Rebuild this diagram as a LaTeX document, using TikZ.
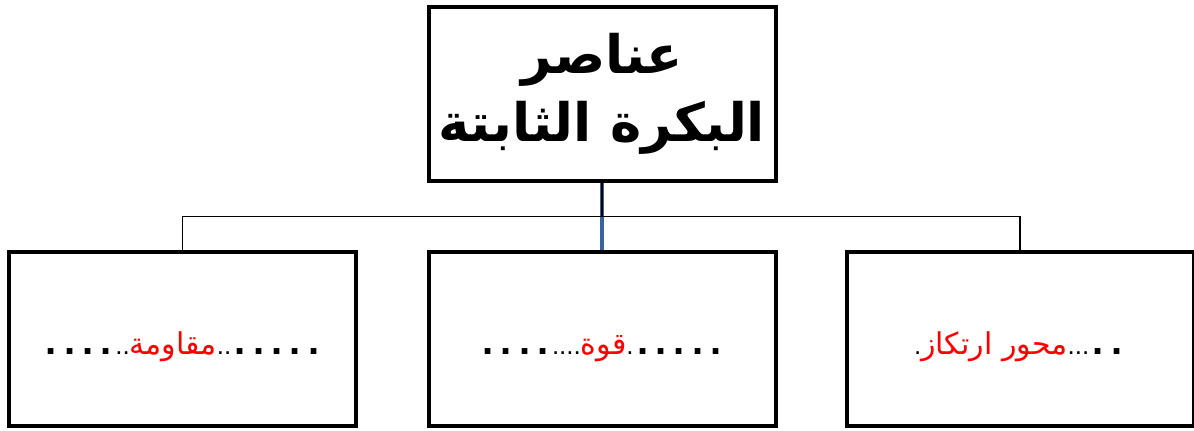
\documentclass[tikz,border=0pt]{standalone}
\usepackage{fontspec}
\usetikzlibrary{calc}
\setmainfont{Liberation Sans}
\newfontfamily\arabicfont[Script=Arabic]{DejaVu Sans}
\TeXXeTstate=1
\definecolor{linkblue}{HTML}{3A659A}
\newcommand\bd{\makebox[18.3pt]{\fontsize{40}{40}\selectfont\bfseries .}}
\newcommand\sd{{\fontsize{26}{26}\selectfont .}}
\newcommand\rw[1]{\textcolor{red}{\arabicfont\fontsize{30}{36}\selectfont\beginR #1\endR}}
\newcommand\low[1]{\raisebox{-15pt}[0pt][0pt]{#1}}
\begin{document}
\begin{tikzpicture}[x=1pt,y=-1pt,
  box/.style={draw=black, line width=4pt, fill=white, minimum width=347pt,
    minimum height=174pt, inner sep=0pt, align=center},
  titlefont/.style={font=\arabicfont\bfseries\fontsize{53}{68}\selectfont},
  link/.style={draw=black, line width=1.3pt},
  trunk/.style={draw=linkblue, line width=3.5pt}]
\useasboundingbox (0,0) rectangle (1194,431);
\node[box, titlefont] (top) at (602,94) {\beginR عناصر\endR\\\beginR البكرة الثابتة\endR};
\node[box] (left) at (182.5,339) {\low{\bd\bd\bd\bd\sd\sd\rw{مقاومة}\sd\sd\bd\bd\bd\bd\bd}};
\node[box] (mid) at (602,339) {\low{\bd\bd\bd\bd\sd\sd\sd\sd\rw{قوة}\sd\bd\bd\bd\bd\bd}};
\node[box] (right) at (1020,339) {\low{\sd\rw{محور ارتكاز}\sd\sd\sd\bd\bd}};
\coordinate (j) at ($(top.south)!0.5!(mid.north)$);
\draw[trunk] (top.south) -- (mid.north);
\draw[link] (top.south) -- (j);
\draw[link] (left.north) |- (j) -| (right.north);
\end{tikzpicture}
\end{document}
